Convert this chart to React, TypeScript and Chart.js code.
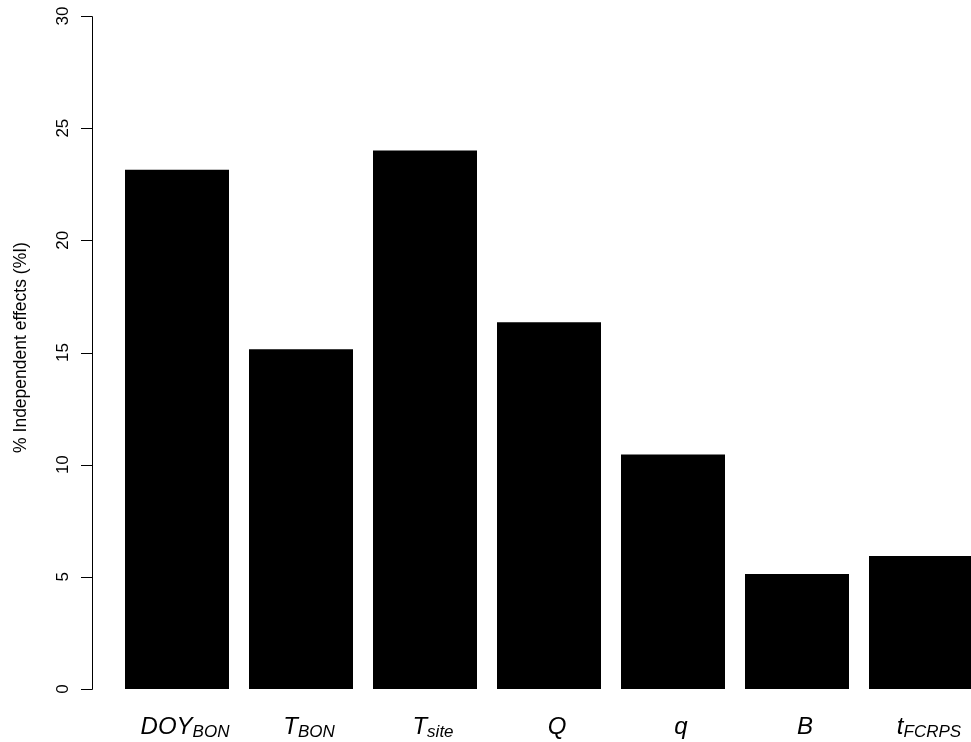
import React, { useEffect, useRef } from 'react';
import { Chart, registerables } from 'chart.js';

Chart.register(...registerables);

const categories = ['DOY', 'T', 'T', 'Q', 'q', 'B', 't'];
const subscripts = ['BON', 'BON', 'site', '', '', '', 'FCRPS'];
const values = [23.15, 15.15, 24.0, 16.35, 10.45, 5.13, 5.93];
const yTicks = [0, 5, 10, 15, 20, 25, 30];
const yTitle = '% Independent effects (%I)';

const FONT = '"Liberation Sans", Arial, Helvetica, sans-serif';

const axisPlugin = {
  id: 'rAxis',
  afterDraw(chart: any) {
    const ctx = chart.ctx as CanvasRenderingContext2D;
    const y = chart.scales.y;
    const x = chart.scales.x;
    const axisX = 92;
    ctx.save();
    ctx.strokeStyle = '#000';
    ctx.lineWidth = 1;
    ctx.beginPath();
    const y0 = Math.round(y.getPixelForValue(yTicks[0])) + 0.5;
    const y1 = Math.round(y.getPixelForValue(yTicks[yTicks.length - 1])) + 0.5;
    ctx.moveTo(axisX + 0.5, y0);
    ctx.lineTo(axisX + 0.5, y1);
    yTicks.forEach((t) => {
      const py = Math.round(y.getPixelForValue(t)) + 0.5;
      ctx.moveTo(axisX + 0.5, py);
      ctx.lineTo(axisX - 11, py);
    });
    ctx.stroke();

    ctx.fillStyle = '#000';
    ctx.font = `17px ${FONT}`;
    ctx.textAlign = 'center';
    ctx.textBaseline = 'alphabetic';
    yTicks.forEach((t) => {
      const py = y.getPixelForValue(t);
      ctx.save();
      ctx.translate(68, py);
      ctx.rotate(-Math.PI / 2);
      ctx.fillText(String(t), 0, 0);
      ctx.restore();
    });

    // title
    ctx.save();
    ctx.translate(26, (y.top + y.bottom) / 2 - 5);
    ctx.rotate(-Math.PI / 2);
    ctx.font = `17.5px ${FONT}`;
    ctx.fillText(yTitle, 0, 0);
    ctx.restore();

    // x labels with subscripts
    const mainFont = `italic 24px ${FONT}`;
    const subFont = `italic 17px ${FONT}`;
    const baseY = 734;
    categories.forEach((c, i) => {
      const cx = x.getPixelForValue(i) + 8;
      ctx.font = mainFont;
      const w1 = ctx.measureText(c).width;
      ctx.font = subFont;
      const sub = subscripts[i];
      const w2 = sub ? ctx.measureText(sub).width : 0;
      const left = cx - (w1 + w2) / 2;
      ctx.textAlign = 'left';
      ctx.font = mainFont;
      ctx.fillText(c, left, baseY);
      if (sub) {
        ctx.font = subFont;
        ctx.fillText(sub, left + w1, baseY + 3);
      }
    });
    ctx.restore();
  },
};

export default function App() {
  const ref = useRef<HTMLCanvasElement | null>(null);
  useEffect(() => {
    if (!ref.current) return;
    const chart = new Chart(ref.current, {
      type: 'bar',
      data: {
        labels: categories.map((c, i) => (subscripts[i] ? `${c}_${subscripts[i]}` : c)),
        datasets: [
          {
            data: values,
            backgroundColor: '#000',
            borderColor: '#000',
            borderWidth: 0,
            categoryPercentage: 1,
            barPercentage: 104 / 124,
          },
        ],
      },
      options: {
        responsive: false,
        animation: false,
        layout: { padding: { left: 115, right: 17, top: 16, bottom: 53 } },
        plugins: { legend: { display: false }, tooltip: { enabled: false } },
        scales: {
          x: { display: false, offset: true },
          y: { display: false, min: 0, max: 30 },
        },
      },
      plugins: [axisPlugin],
    });
    return () => chart.destroy();
  }, []);
  return (
    <div style={{ position: 'fixed', left: 0, top: 0, width: 971, height: 742, overflow: 'hidden', background: '#fff' }}>
      <canvas ref={ref} width={1000} height={742} style={{ width: 1000, height: 742 }} />
    </div>
  );
}
